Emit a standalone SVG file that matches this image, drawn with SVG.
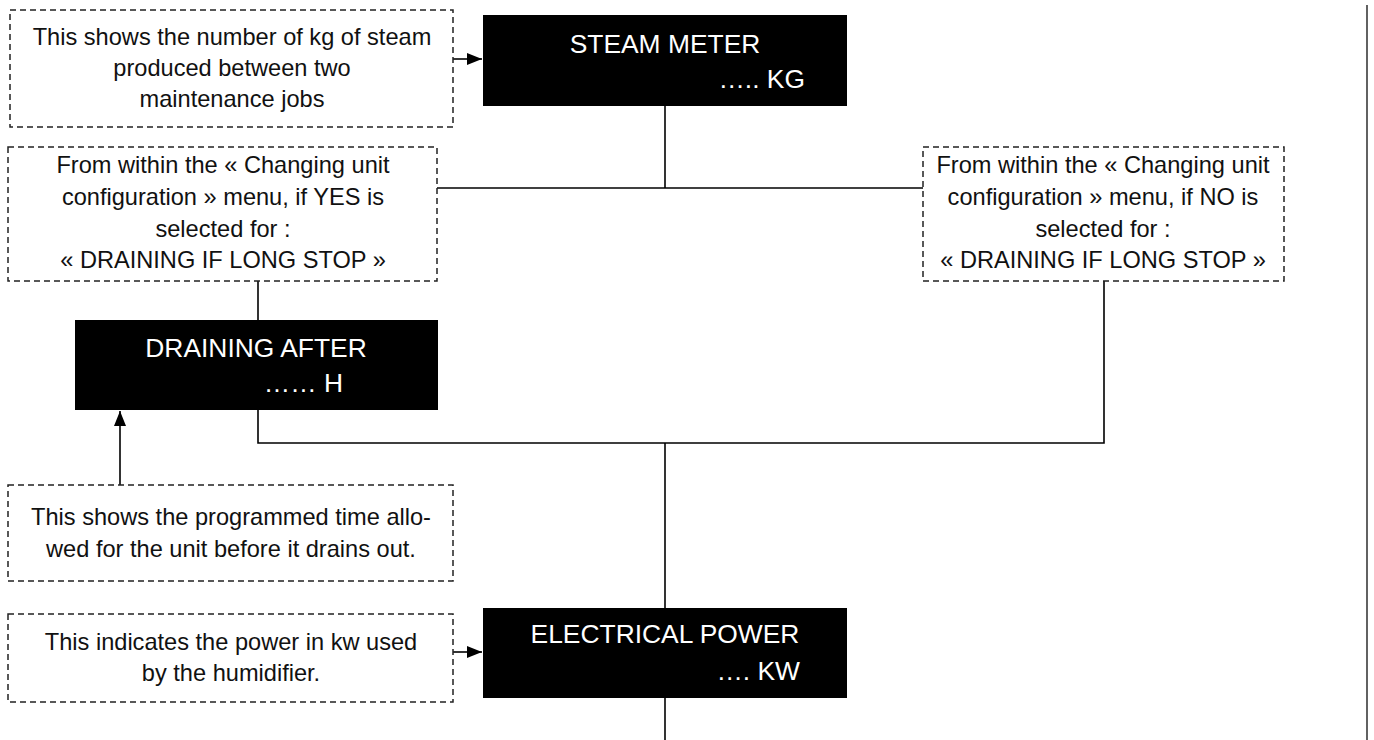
<svg xmlns="http://www.w3.org/2000/svg" width="1374" height="740" viewBox="0 0 1374 740">
<style>
.note{fill:#fff;stroke:#222;stroke-width:1.5;stroke-dasharray:6 4}
.disp{fill:#000}
.nt{font-family:"Liberation Sans",Arial,sans-serif;font-size:23.6px;fill:#111;text-anchor:middle}
.dt{font-family:"Liberation Sans",Arial,sans-serif;font-size:26.4px;fill:#fff}
.c{fill:none;stroke:#000;stroke-width:1.6}
</style>
<defs>
<marker id="ah" markerUnits="userSpaceOnUse" markerWidth="16" markerHeight="12" refX="15" refY="6" orient="auto">
<path d="M0,0 L15,6 L0,12 Z" fill="#000"/>
</marker>
</defs>
<rect width="1374" height="740" fill="#fff"/>
<g id="connectors">
<line class="c" x1="453" y1="59" x2="482" y2="59" marker-end="url(#ah)"/>
<line class="c" x1="665" y1="106" x2="665" y2="188"/>
<line class="c" x1="437" y1="188" x2="923" y2="188"/>
<line class="c" x1="258" y1="281" x2="258" y2="320"/>
<polyline class="c" points="258,410 258,443 1104,443 1104,281"/>
<line class="c" x1="665" y1="443" x2="665" y2="608"/>
<line class="c" x1="120" y1="485" x2="120" y2="411" marker-end="url(#ah)"/>
<line class="c" x1="453" y1="652" x2="482" y2="652" marker-end="url(#ah)"/>
<line class="c" x1="665" y1="698" x2="665" y2="740"/>
<line x1="1367" y1="5" x2="1367" y2="740" stroke="#3a3a3a" stroke-width="1.6"/>
</g>
<g id="note-steam">
<rect class="note" x="10" y="10" width="443" height="117"/>
<text class="nt" x="232" y="45">This shows the number of kg of steam</text>
<text class="nt" x="232" y="76">produced between two</text>
<text class="nt" x="232" y="107">maintenance jobs</text>
</g>
<g id="steam-meter">
<rect class="disp" x="483" y="15" width="364" height="91"/>
<text class="dt" x="665" y="53" text-anchor="middle">STEAM METER</text>
<text class="dt" x="805" y="88" text-anchor="end">….. KG</text>
</g>
<g id="note-yes">
<rect class="note" x="8" y="147" width="429" height="134"/>
<text class="nt" x="223" y="173">From within the « Changing unit</text>
<text class="nt" x="223" y="205">configuration » menu, if YES is</text>
<text class="nt" x="223" y="237">selected for :</text>
<text class="nt" x="223" y="268">« DRAINING IF LONG STOP »</text>
</g>
<g id="note-no">
<rect class="note" x="923" y="147" width="361" height="134"/>
<text class="nt" x="1103" y="173">From within the « Changing unit</text>
<text class="nt" x="1103" y="205">configuration » menu, if NO is</text>
<text class="nt" x="1103" y="237">selected for :</text>
<text class="nt" x="1103" y="268">« DRAINING IF LONG STOP »</text>
</g>
<g id="draining-after">
<rect class="disp" x="75" y="320" width="363" height="90"/>
<text class="dt" x="256" y="357" text-anchor="middle">DRAINING AFTER</text>
<text class="dt" x="343" y="392" text-anchor="end">…… H</text>
</g>
<g id="note-time">
<rect class="note" x="8" y="485" width="445" height="96"/>
<text class="nt" x="231" y="525">This shows the programmed time allo-</text>
<text class="nt" x="231" y="557">wed for the unit before it drains out.</text>
</g>
<g id="note-power">
<rect class="note" x="8" y="614" width="445" height="88"/>
<text class="nt" x="231" y="650">This indicates the power in kw used</text>
<text class="nt" x="231" y="681">by the humidifier.</text>
</g>
<g id="electrical-power">
<rect class="disp" x="483" y="608" width="364" height="90"/>
<text class="dt" x="665" y="643" text-anchor="middle">ELECTRICAL POWER</text>
<text class="dt" x="800" y="680" text-anchor="end">…. KW</text>
</g>
</svg>
